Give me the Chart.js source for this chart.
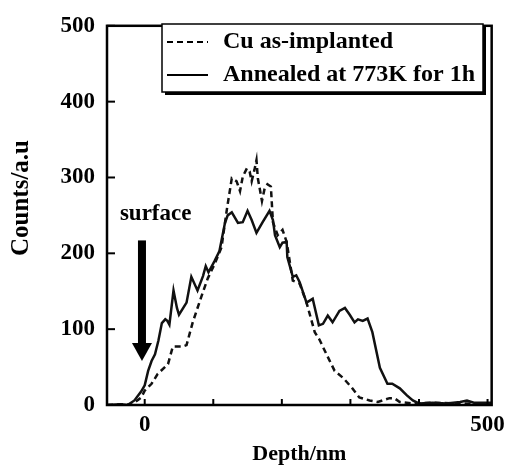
<!DOCTYPE html>
<html>
<head>
<meta charset="utf-8">
<script src="https://cdn.jsdelivr.net/npm/chart.js@4/dist/chart.umd.min.js"></script>
<style>
  html, body { margin: 0; padding: 0; background: #fff; }
  #wrap { width: 511px; height: 470px; }
</style>
</head>
<body>
<div id="wrap"><canvas id="c" width="511" height="470"></canvas></div>
<script>
// Cu as-implanted (dashed)
const depthAsImplanted = [
  -55, -30, -20, -15, -5, 0, 10, 19, 34, 41, 55, 61, 70, 83, 92, 102, 112, 120,
  127, 134, 139, 143, 149, 153, 156, 160, 163, 165, 171, 175, 179, 184, 187, 194,
  201, 207, 216, 226, 236, 248, 255, 265, 277, 289, 302, 313, 328, 340, 357, 364,
  372, 390, 420, 460, 506
];
const countsAsImplanted = [
  0, 1, 0, 3, 10, 19, 28, 41, 54, 77, 77, 79, 109, 144, 167, 186, 208, 259,
  299, 295, 282, 301, 312, 308, 295, 310, 323, 299, 269, 286, 291, 288, 241, 224,
  231, 215, 164, 160, 135, 96, 86, 67, 45, 36, 23, 10, 6, 4, 9, 9,
  4, 2, 3, 2, 2
];

// Annealed at 773K for 1h (solid)
const depthAnnealed = [
  -55, -35, -25, -15, -5, 0, 5, 10, 15, 20, 25, 30, 33, 36, 42, 47, 50, 61, 68,
  77, 85, 89, 93, 102, 109, 117, 121, 127, 136, 143, 150, 156, 163, 172, 182, 187,
  190, 197, 201, 207, 208, 216, 221, 226, 230, 236, 245, 254, 260, 267, 274, 284,
  292, 299, 306, 311, 318, 325, 332, 343, 354, 361, 372, 382, 391, 400, 420, 440,
  460, 470, 480, 506
];
const countsAnnealed = [
  0, 1, 0, 6, 18, 26, 45, 58, 67, 85, 108, 113, 111, 106, 151, 128, 119, 135, 169,
  151, 170, 183, 175, 190, 203, 240, 250, 254, 240, 241, 256, 244, 227, 241, 256, 244,
  224, 208, 214, 215, 195, 169, 171, 162, 151, 135, 140, 105, 107, 118, 109, 124,
  128, 119, 109, 113, 111, 114, 96, 49, 28, 28, 22, 13, 6, 2, 3, 2,
  4, 6, 3, 3
];

const seriesLabels = ['Cu as-implanted', 'Annealed at 773K for 1h'];
const xTickValues = [0, 100, 200, 300, 400, 500];
const xTickLabels = ['0', '', '', '', '', '500'];
const yTickValues = [0, 100, 200, 300, 400, 500];
const yTitle = 'Counts/a.u';
const surfaceLabel = 'surface';
const surfaceArrow = { depth: -4, from: 217, to: 58, labelDepth: 16, labelCounts: 252 };

const FONT = '"Liberation Serif", "DejaVu Serif", serif';

const toPoints = (xs, ys) => xs.map((x, i) => ({ x: x, y: ys[i] }));

// frame, inward ticks, y title, arrow and boxed legend
const decorations = {
  id: 'decorations',
  afterDatasetsDraw(chart) {
    const ctx = chart.ctx;
    const a = chart.chartArea;
    const xs = chart.scales.x;
    const ys = chart.scales.y;
    ctx.save();
    ctx.strokeStyle = '#000';
    ctx.lineWidth = 2.5;
    ctx.strokeRect(a.left, a.top, a.right - a.left, a.bottom - a.top);

    // inward tick marks
    ctx.lineWidth = 2;
    xTickValues.forEach(v => {
      const px = xs.getPixelForValue(v);
      ctx.beginPath();
      ctx.moveTo(px, a.bottom);
      ctx.lineTo(px, a.bottom - 6);
      ctx.stroke();
    });
    yTickValues.forEach(v => {
      const py = ys.getPixelForValue(v);
      ctx.beginPath();
      ctx.moveTo(a.left, py);
      ctx.lineTo(a.left + 8, py);
      ctx.stroke();
    });

    // y axis title (sits a little above the axis centre in the original)
    ctx.fillStyle = '#000';
    ctx.save();
    ctx.translate(22, 198);
    ctx.rotate(-Math.PI / 2);
    ctx.font = 'bold 25px ' + FONT;
    ctx.textAlign = 'center';
    ctx.textBaseline = 'middle';
    ctx.fillText(yTitle, 0, 0);
    ctx.restore();

    // surface arrow
    const ax = xs.getPixelForValue(surfaceArrow.depth);
    const ay0 = ys.getPixelForValue(surfaceArrow.from);
    const ay1 = ys.getPixelForValue(surfaceArrow.to);
    ctx.fillRect(ax - 4, ay0, 8, (ay1 - 17) - ay0);
    ctx.beginPath();
    ctx.moveTo(ax - 10, ay1 - 18);
    ctx.lineTo(ax + 10, ay1 - 18);
    ctx.lineTo(ax, ay1);
    ctx.closePath();
    ctx.fill();

    ctx.font = 'bold 23px ' + FONT;
    ctx.textAlign = 'center';
    ctx.textBaseline = 'middle';
    ctx.fillText(surfaceLabel, xs.getPixelForValue(surfaceArrow.labelDepth),
      ys.getPixelForValue(surfaceArrow.labelCounts));

    // legend box with shadow
    const lx = 162, ly = 24, lw = 321, lh = 68;
    ctx.fillRect(lx + 3, ly + 3, lw, lh);
    ctx.fillStyle = '#fff';
    ctx.fillRect(lx, ly, lw, lh);
    ctx.lineWidth = 1.5;
    ctx.strokeRect(lx, ly, lw, lh);

    ctx.font = 'bold 24px ' + FONT;
    chart.data.datasets.forEach((ds, i) => {
      const y = ly + 18 + i * 33;
      ctx.strokeStyle = '#000';
      ctx.lineWidth = 2;
      ctx.setLineDash(ds.borderDash || []);
      ctx.beginPath();
      ctx.moveTo(lx + 5, y);
      ctx.lineTo(lx + 46, y);
      ctx.stroke();
      ctx.setLineDash([]);
      ctx.fillStyle = '#000';
      ctx.textAlign = 'left';
      ctx.fillText(ds.label, lx + 61, y);
    });
    ctx.restore();
  }
};

new Chart(document.getElementById('c'), {
  type: 'line',
  data: {
    datasets: [
      {
        label: seriesLabels[0],
        data: toPoints(depthAsImplanted, countsAsImplanted),
        borderColor: '#111',
        borderWidth: 2.5,
        borderDash: [6, 4],
        pointRadius: 0,
        tension: 0,
        fill: false
      },
      {
        label: seriesLabels[1],
        data: toPoints(depthAnnealed, countsAnnealed),
        borderColor: '#111',
        borderWidth: 2.5,
        pointRadius: 0,
        tension: 0,
        fill: false
      }
    ]
  },
  options: {
    responsive: false,
    animation: false,
    layout: { padding: { left: 0, right: 19, top: 16, bottom: 0 } },
    plugins: {
      legend: { display: false },
      tooltip: { enabled: false }
    },
    scales: {
      x: {
        type: 'linear',
        min: -55,
        max: 506,
        afterBuildTicks: s => { s.ticks = xTickValues.map(v => ({ value: v })); },
        afterFit: s => { s.height = 65; },
        grid: { display: false, drawTicks: false },
        border: { display: false },
        ticks: {
          autoSkip: false,
          maxRotation: 0,
          padding: 6,
          color: '#000',
          font: { family: FONT, size: 23, weight: 'bold' },
          callback: v => xTickLabels[xTickValues.indexOf(v)]
        },
        title: {
          display: true,
          text: 'Depth/nm',
          color: '#000',
          padding: { top: 2, bottom: 2 },
          font: { family: FONT, size: 22, weight: 'bold' }
        }
      },
      y: {
        min: 0,
        max: 500,
        afterBuildTicks: s => { s.ticks = yTickValues.map(v => ({ value: v })); },
        afterFit: s => { s.width = 107; },
        grid: { display: false, drawTicks: false },
        border: { display: false },
        ticks: {
          padding: 12,
          color: '#000',
          font: { family: FONT, size: 23, weight: 'bold' }
        }
      }
    }
  },
  plugins: [decorations]
});
</script>
</body>
</html>
